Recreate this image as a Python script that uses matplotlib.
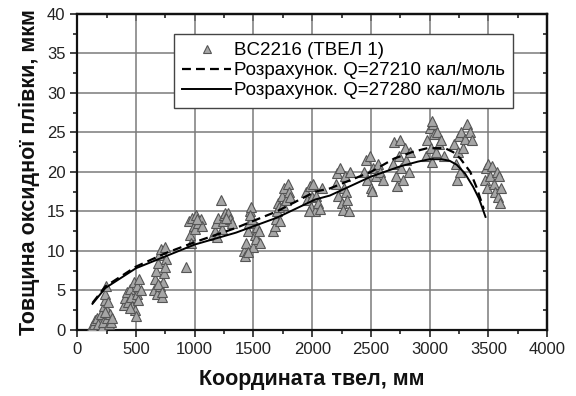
import numpy as np
import matplotlib
matplotlib.use("Agg")
from matplotlib import pyplot as plt
from matplotlib.ticker import MultipleLocator

plt.rcParams['font.family'] = ['Liberation Sans', 'DejaVu Sans']

# measured points, BC2216 (TVEL 1)
meas_x = [130, 140, 150, 170, 180, 200, 210, 220, 230, 235, 240, 245, 250, 255, 260, 270, 280, 290, 300, 240,
          400, 410, 420, 430, 450, 460, 470, 480, 490, 500, 505, 510, 520, 530, 540, 450,
          650, 660, 670, 680, 690, 700, 705, 710, 720, 730, 740, 750, 760, 745, 690, 725,
          930,
          950, 960, 970, 980, 990, 1000, 1010, 1030, 1050, 1060, 1020,
          1160, 1170, 1180, 1190, 1200, 1220, 1230, 1240, 1250, 1260, 1280, 1300, 1320, 1270,
          1420, 1430, 1440, 1450, 1460, 1470, 1480, 1490, 1500, 1510, 1520, 1530, 1550, 1560, 1450, 1470,
          1670, 1680, 1690, 1700, 1710, 1720, 1740, 1750, 1760, 1780, 1790, 1800, 1810, 1730,
          1950, 1960, 1980, 1990, 2000, 2010, 2020, 2030, 2050, 2070, 2080, 1970,
          2200, 2210, 2220, 2240, 2250, 2260, 2270, 2280, 2290, 2300, 2320, 2310,
          2440, 2460, 2470, 2490, 2500, 2520, 2540, 2560, 2580, 2600, 2510,
          2690, 2700, 2710, 2720, 2740, 2750, 2760, 2770, 2790, 2800, 2820, 2830,
          2970, 2980, 3000, 3010, 3020, 3030, 3040, 3050, 3060, 3080, 3100, 3120, 3020,
          3210, 3220, 3230, 3240, 3250, 3260, 3270, 3280, 3300, 3320, 3340, 3360,
          3470, 3480, 3490, 3500, 3510, 3530, 3550, 3560, 3570, 3580, 3600, 3590, 3610]
meas_y = [0.5, 0.8, 1.2, 1.5, 0.7, 2.0, 0.4, 1.0, 3.0, 3.8, 4.5, 5.5, 2.5, 1.5, 3.5, 0.8, 2.0, 1.0, 1.5, 2.2,
          3.2, 4.0, 4.8, 3.5, 5.2, 4.2, 3.0, 6.0, 2.5, 1.8, 4.5, 5.5, 3.8, 6.5, 5.0, 2.8,
          5.0, 6.5, 7.5, 4.5, 8.5, 9.5, 5.5, 10.2, 4.2, 6.0, 7.2, 10.5, 9.0, 8.0, 5.8, 4.8,
          8.0,
          13.8, 12.0, 11.0, 14.2, 13.2, 12.8, 14.5, 13.5, 14.0, 13.2, 14.0,
          12.0, 12.5, 13.5, 11.8, 14.2, 16.5, 12.8, 13.8, 14.5, 14.8, 14.8, 14.0, 13.5, 14.2,
          10.0, 9.3, 11.0, 12.5, 13.5, 15.0, 15.5, 14.0, 10.5, 12.0, 11.5, 13.0, 12.5, 11.0, 9.8, 14.5,
          12.5, 13.2, 14.0, 15.0, 16.0, 15.5, 17.0, 15.8, 18.0, 16.5, 18.5, 17.5, 16.8, 13.8,
          17.5, 16.5, 18.2, 15.5, 16.8, 18.5, 15.0, 17.0, 16.0, 15.3, 18.0, 15.0,
          18.5, 19.8, 17.0, 20.5, 16.0, 15.2, 18.0, 19.5, 17.5, 16.5, 20.0, 15.0,
          20.0, 21.5, 19.0, 22.0, 18.0, 20.5, 19.5, 21.0, 20.0, 19.0, 17.6,
          21.0, 23.8, 19.5, 18.2, 22.0, 24.0, 20.5, 19.0, 23.0, 21.5, 20.0, 22.5,
          22.0, 24.0, 25.5, 23.0, 21.2, 26.0, 24.8, 22.5, 25.0, 23.5, 24.0, 22.0, 26.5,
          23.5, 21.0, 19.0, 22.5, 24.5, 20.0, 25.0, 23.0, 24.2, 26.0, 25.0, 24.0,
          19.0, 20.5, 18.0, 21.0, 19.5, 20.8, 18.5, 17.5, 20.0, 16.8, 16.0, 19.5, 18.0]

# calculation Q=27210
calc1_x = [130, 240, 500, 750, 1000, 1350, 1700, 2025, 2150, 2500, 2700, 2850, 2980, 3130, 3200, 3260, 3345, 3400, 3460]
calc1_y = [3.4, 5.5, 8.0, 9.7, 11.1, 12.9, 15.0, 17.5, 17.9, 20.0, 21.7, 22.5, 23.0, 23.0, 22.5, 21.7, 20.0, 18.0, 15.3]

# calculation Q=27280
calc2_x = [130, 240, 500, 750, 1000, 1350, 1700, 2025, 2150, 2500, 2750, 2900, 3000, 3100, 3170, 3230, 3300, 3370, 3420, 3475]
calc2_y = [3.3, 5.3, 7.8, 9.3, 10.8, 12.3, 14.2, 16.5, 17.0, 19.4, 20.7, 21.3, 21.6, 21.6, 21.4, 20.9, 19.8, 18.1, 16.6, 14.3]

fig = plt.figure(figsize=(5.76, 3.96), dpi=100)
ax = fig.add_axes([0.134, 0.167, 0.816, 0.798])

ax.grid(True, color='#7a7a7a', linewidth=1.1, zorder=0)
ax.plot(meas_x, meas_y, linestyle='none', marker='^', markersize=7,
        markerfacecolor='#a6a6a6', markeredgecolor='#555555', markeredgewidth=0.8,
        label='BC2216 (ТВЕЛ 1)', zorder=3)
ax.plot(calc1_x, calc1_y, color='black', linewidth=1.6, dashes=(4, 2.3),
        label='Розрахунок. Q=27210 кал/моль', zorder=4)
ax.plot(calc2_x, calc2_y, color='black', linewidth=1.4,
        label='Розрахунок. Q=27280 кал/моль', zorder=4)

ax.set_xlim(0, 4000)
ax.set_ylim(0, 40)
ax.xaxis.set_major_locator(MultipleLocator(500))
ax.xaxis.set_minor_locator(MultipleLocator(250))
ax.yaxis.set_major_locator(MultipleLocator(5))
ax.yaxis.set_minor_locator(MultipleLocator(2.5))
ax.tick_params(which='both', direction='out', labelsize=12, colors='#222222', width=1.2)
ax.tick_params(which='major', length=5)
ax.tick_params(which='minor', length=3)

# mirror ticks on top and right, pointing inward
top = ax.secondary_xaxis('top')
top.xaxis.set_major_locator(MultipleLocator(500))
top.xaxis.set_minor_locator(MultipleLocator(250))
top.tick_params(which='both', direction='in', labeltop=False, width=1.2, colors='#222222')
top.tick_params(which='major', length=5)
top.tick_params(which='minor', length=3)
right = ax.secondary_yaxis('right')
right.yaxis.set_major_locator(MultipleLocator(5))
right.yaxis.set_minor_locator(MultipleLocator(2.5))
right.tick_params(which='both', direction='in', labelright=False, width=1.2, colors='#222222')
right.tick_params(which='major', length=5)
right.tick_params(which='minor', length=3)

for a in [ax, top, right]:
    for side in a.spines:
        a.spines[side].set_linewidth(1.6)
        a.spines[side].set_color('#111111')

ax.set_xlabel('Координата твел, мм', fontsize=15.5, fontweight='bold', labelpad=9, color='#111111')
ax.set_ylabel('Товщина оксидної плівки, мкм', fontsize=15.5, fontweight='bold', labelpad=5, color='#111111')

leg = ax.legend(loc='upper right', bbox_to_anchor=(0.928, 0.937), borderaxespad=0, fontsize=13.5,
                handlelength=2.6, handletextpad=0.15, borderpad=0.45, labelspacing=0.15, fancybox=False,
                framealpha=1, edgecolor='#444444', markerscale=0.8)
leg.get_frame().set_linewidth(1.0)

fig.savefig('out.png', dpi=100)
